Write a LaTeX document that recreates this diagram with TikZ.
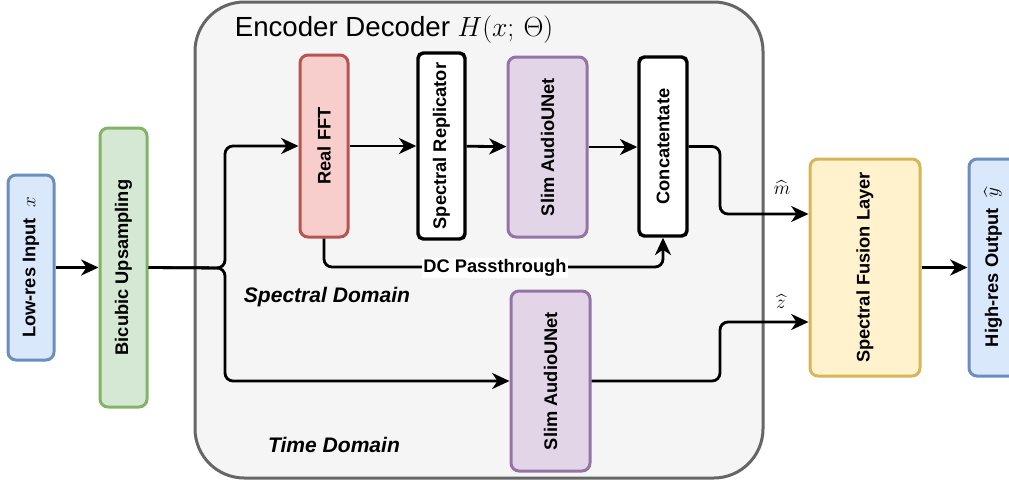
\documentclass[tikz,border=0pt]{standalone}
\usepackage{amsmath}
\usepackage{fontspec}
\setmainfont{Liberation Sans}
\usepackage{graphicx}
\usetikzlibrary{arrows.meta}

\definecolor{inblue}{HTML}{DAE8FC}
\definecolor{inblueline}{HTML}{6C8EBF}
\definecolor{upgreen}{HTML}{D5E8D4}
\definecolor{upgreenline}{HTML}{82B366}
\definecolor{fftred}{HTML}{F8CECC}
\definecolor{fftredline}{HTML}{B85450}
\definecolor{unetpurple}{HTML}{E1D5E7}
\definecolor{unetpurpleline}{HTML}{9673A6}
\definecolor{fuseyellow}{HTML}{FFF2CC}
\definecolor{fuseyellowline}{HTML}{D6B656}
\definecolor{encgray}{HTML}{F5F5F5}
\definecolor{encgrayline}{HTML}{666666}

\begin{document}
\begin{tikzpicture}[x=0.75pt,y=-0.75pt,line width=2.1pt,
        >={Stealth[length=13pt,width=12pt,inset=4pt]},
        block/.style={draw,rounded corners=6pt,line width=2.25pt,inner sep=0pt,
            font=\fontsize{13.7}{16}\bfseries\selectfont},
        inbox/.style={block,fill=inblue,draw=inblueline},
        upbox/.style={block,fill=upgreen,draw=upgreenline},
        fftbox/.style={block,fill=fftred,draw=fftredline},
        unetbox/.style={block,fill=unetpurple,draw=unetpurpleline,
            minimum width=59.25pt,minimum height=135pt},
        plainbox/.style={block,fill=white,draw=black,line width=2.6pt,rounded corners=4pt},
        fusebox/.style={block,fill=fuseyellow,draw=fuseyellowline},
        domaintext/.style={font=\fontsize{15.8}{18}\bfseries\itshape\selectfont},
        hatlabel/.style={font=\fontsize{14.4}{17}\selectfont},
        conn/.style={rounded corners=6pt}]
    \useasboundingbox (0,0) rectangle (1009,482);

    % encoder decoder container
    \node[draw=encgrayline,fill=encgray,line width=2.25pt,rounded corners=37pt,
        minimum width=426pt,minimum height=357pt] (encdec) at (479,240) {};
    \node[anchor=west,font=\fontsize{20.74}{24}\selectfont] (title) at (229,30)
        {Encoder Decoder $H(x;\,\Theta)$};
    \node[domaintext] (specdom) at (327,297) {Spectral Domain};
    \node[domaintext] (timedom) at (334,445) {Time Domain};

    % blocks
    \node[inbox,minimum width=34.5pt,minimum height=138.75pt] (lowres) at (31,267.5)
        {\rotatebox{90}{Low-res Input\ \ {\fontsize{14.4}{17}\selectfont$x$}}};
    \node[upbox,minimum width=35.25pt,minimum height=209.25pt] (bicubic) at (123.5,267.5)
        {\rotatebox{90}{Bicubic Upsampling}};
    \node[fftbox,minimum width=36pt,minimum height=136.5pt] (fft) at (324,146)
        {\rotatebox{90}{Real FFT}};
    \node[plainbox,minimum width=35.25pt,minimum height=139.5pt] (repl) at (441.5,146)
        {\rotatebox{90}{Spectral Replicator}};
    \node[unetbox] (unetf) at (547.5,147) {\rotatebox{90}{Slim AudioUNet}};
    \node[plainbox,minimum width=36pt,minimum height=134.25pt] (concat) at (663,146.5)
        {\rotatebox{90}{Concatentate}};
    \node[unetbox] (unett) at (550.5,381) {\rotatebox{90}{Slim AudioUNet}};
    \node[fusebox,minimum width=82.5pt,minimum height=162.75pt] (fusion) at (865,267.5)
        {\rotatebox{90}{Spectral Fusion Layer}};
    \node[inbox,minimum width=36pt,minimum height=162.75pt] (highres) at (993,267.5)
        {\rotatebox{90}{High-res Output\ \ {\fontsize{14.4}{17}\selectfont$\widehat{y}$}}};

    % bends
    \coordinate (split) at (225,268);
    \coordinate (mbend) at (720,214);
    \coordinate (zbend) at (720,322);
    \coordinate (dcturn) at (663,267);

    \path[->]
         (lowres) edge (bicubic)
         (fft) edge (repl)
         (repl) edge (unetf)
         (unetf.east) edge (unetf.east -| concat.west)
         (fusion) edge (highres)
    ;
    \draw[->,conn] (bicubic.east) -- (split) |- (fft.west);
    \draw[->,conn] (bicubic.east) -- (split) |- (unett.west);
    \draw[->,conn] (fft.south) |- (dcturn) -- (concat.south);
    \node[fill=white,inner sep=1pt,font=\fontsize{13.7}{16}\bfseries\selectfont]
        (dclabel) at (495,268) {DC Passthrough};
    \draw[->,conn] (concat.east) -| (mbend) -- (mbend -| fusion.west);
    \draw[->,conn] (unett.east) -| (zbend) -- (zbend -| fusion.west);
    \node[hatlabel] (mhat) at (782,188) {$\widehat{m}$};
    \node[hatlabel] (zhat) at (781,302) {$\widehat{z}$};
\end{tikzpicture}
\end{document}
